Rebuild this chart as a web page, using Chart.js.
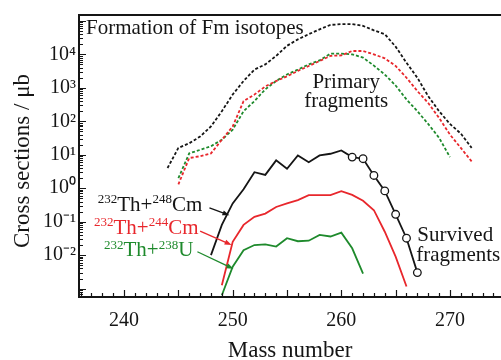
<!DOCTYPE html>
<html>
<head>
<meta charset="utf-8">
<script src="https://cdn.jsdelivr.net/npm/chart.js@4.4.1/dist/chart.umd.min.js"></script>
<style>
  html, body { margin: 0; padding: 0; background: #fff; }
  #wrap { width: 501px; height: 360px; overflow: hidden; }
</style>
</head>
<body>
<div id="wrap"><canvas id="grafico" width="501" height="360"></canvas></div>
<script>
// Números de massa (eixo x)
const massas = [244, 245, 246, 247, 248, 249, 250, 251, 252, 253, 254, 255, 256, 257, 258, 259, 260, 261, 262, 263, 264, 265, 266, 267, 268, 269, 270, 271, 272];

// Fragmentos primários (μb)
const primariosCm248 = [4, 16, 22, 35, 70, 200, 630, 1600, 3500, 5000, 9000, 18000, 28000, 40000, 56000, 76000, 80000, 80000, 71000, 52000, 40000, 17000, 5600, 2000, 560, 200, 83, 43, 16];
const primariosCm244 = [null, 1.3, 8, 9, 11, 28, 70, 400, 630, 1100, 1600, 2200, 3200, 4500, 6300, 9000, 9300, 12600, 12600, 10000, 7600, 4500, 2000, 800, 350, 126, 40, 16, 6.3];
const primariosU238 = [null, 2, 11, 14, 18, 28, 56, 200, 400, 900, 1600, 2500, 3500, 5000, 6600, 10500, 10500, 10000, 8000, 4600, 2500, 1170, 450, 200, 83, 32, 8.5, null, null];

// Fragmentos sobreviventes (μb)
const sobreviventesCm248 = [null, null, null, null, 0.01, 0.08, 0.35, 0.93, 3.0, 2.5, 6.8, 3.8, 9.5, 6.0, 9.5, 10.7, 13.5, 8.5, 7.6, 2.4, 0.83, 0.166, 0.032, 0.003, null, null, null, null, null];
const sobreviventesCm244 = [null, null, null, null, null, 0.00126, 0.025, 0.08, 0.14, 0.174, 0.275, 0.35, 0.44, 0.62, 0.62, 0.62, 0.81, 0.63, 0.42, 0.22, 0.05, 0.009, 0.00115, null, null, null, null, null, null];
const sobreviventesU238 = [null, null, null, null, null, 0.00063, 0.0045, 0.014, 0.02, 0.021, 0.018, 0.032, 0.026, 0.027, 0.04, 0.036, 0.047, 0.016, 0.0028, null, null, null, null, null, null, null, null, null, null];

// Massa a partir da qual a curva preta tem círculos
const primeiraMassaCirculo = 261;

// Ticks
const xTicks = [240, 250, 260, 270];
const yTicks = [0.01, 0.1, 1, 10, 100, 1000, 10000];
const yTickLabels = ['10⁻²', '10⁻¹', '10⁰', '10¹', '10²', '10³', '10⁴'];

const fonte = '"Liberation Serif", "Times New Roman", serif';
const preto = '#151515';
const vermelho = '#e8272c';
const verde = '#1e8a2c';

function pontos(valores) {
  return massas.map((m, i) => ({ x: m, y: valores[i] }));
}

// Texto com sobrescritos: partes = [[texto, sobrescrito?], ...]
function textoRico(ctx, partes, x, y, alinhamento, cor, tam) {
  const tamSup = Math.round(tam * 0.64);
  let largura = 0;
  partes.forEach(([t, sup]) => {
    ctx.font = `${sup ? tamSup : tam}px ${fonte}`;
    largura += ctx.measureText(t).width;
  });
  let cx = alinhamento === 'right' ? x - largura : alinhamento === 'center' ? x - largura / 2 : x;
  ctx.fillStyle = cor;
  ctx.textAlign = 'left';
  ctx.textBaseline = 'alphabetic';
  partes.forEach(([t, sup]) => {
    ctx.font = `${sup ? tamSup : tam}px ${fonte}`;
    ctx.fillText(t, cx, sup ? y - tam * 0.36 : y);
    cx += ctx.measureText(t).width;
  });
}

function seta(ctx, x1, y1, x2, y2, cor) {
  const ang = Math.atan2(y2 - y1, x2 - x1);
  ctx.strokeStyle = cor;
  ctx.fillStyle = cor;
  ctx.lineWidth = 1.3;
  ctx.beginPath();
  ctx.moveTo(x1, y1);
  ctx.lineTo(x2 - 4 * Math.cos(ang), y2 - 4 * Math.sin(ang));
  ctx.stroke();
  ctx.beginPath();
  ctx.moveTo(x2, y2);
  ctx.lineTo(x2 - 7 * Math.cos(ang) + 2.6 * Math.sin(ang), y2 - 7 * Math.sin(ang) - 2.6 * Math.cos(ang));
  ctx.lineTo(x2 - 7 * Math.cos(ang) - 2.6 * Math.sin(ang), y2 - 7 * Math.sin(ang) + 2.6 * Math.cos(ang));
  ctx.closePath();
  ctx.fill();
}

// Moldura, ticks internos, títulos e anotações
const desenhos = {
  id: 'desenhos',
  afterDraw(chart) {
    const ctx = chart.ctx;
    const { left, right, top, bottom } = chart.chartArea;
    const sx = chart.scales.x;
    const sy = chart.scales.y;
    const px = v => sx.getPixelForValue(v);
    const py = v => sy.getPixelForValue(v);
    ctx.save();

    // moldura
    ctx.strokeStyle = preto;
    ctx.lineWidth = 2;
    ctx.beginPath();
    ctx.moveTo(right + 2, top);
    ctx.lineTo(left, top);
    ctx.lineTo(left, bottom);
    ctx.lineTo(right + 2, bottom);
    ctx.stroke();

    // ticks do eixo y (maiores nas potências de 10)
    ctx.lineWidth = 1.2;
    ctx.beginPath();
    for (let e = -4; e <= 5; e++) {
      for (let k = 1; k <= 9; k++) {
        const v = k * Math.pow(10, e);
        if (v < sy.min || v > sy.max) continue;
        const y = Math.round(py(v)) + 0.5;
        ctx.moveTo(left, y);
        ctx.lineTo(left + (k === 1 ? 7 : 4), y);
      }
    }
    // ticks do eixo x
    for (let m = Math.ceil(sx.min); m <= Math.floor(sx.max); m++) {
      const x = Math.round(px(m)) + 0.5;
      ctx.moveTo(x, bottom);
      ctx.lineTo(x, bottom - (m % 5 === 0 ? 7 : 4));
    }
    ctx.stroke();

    // títulos dos eixos
    ctx.fillStyle = preto;
    ctx.font = `23px ${fonte}`;
    ctx.textAlign = 'center';
    ctx.textBaseline = 'alphabetic';
    ctx.fillText('Mass number', (left + right) / 2, 357);
    ctx.save();
    ctx.translate(28.5, 161);
    ctx.rotate(-Math.PI / 2);
    ctx.fillText('Cross sections / μb', 0, 0);
    ctx.restore();

    // anotações
    textoRico(ctx, [['Formation of Fm isotopes', false]], px(236.5), py(40000), 'left', preto, 21);
    textoRico(ctx, [['Primary', false]], px(260.45), py(1000), 'center', preto, 21);
    textoRico(ctx, [['fragments', false]], px(260.45), py(260), 'center', preto, 21);
    textoRico(ctx, [['Survived', false]], px(267.0), py(0.027), 'left', preto, 21);
    textoRico(ctx, [['fragments', false]], px(266.9), py(0.0068), 'left', preto, 21);

    textoRico(ctx, [['232', true], ['Th+', false], ['248', true], ['Cm', false]], px(247.2), py(0.21), 'right', preto, 21);
    textoRico(ctx, [['232', true], ['Th+', false], ['244', true], ['Cm', false]], px(246.85), py(0.043), 'right', vermelho, 21);
    textoRico(ctx, [['232', true], ['Th+', false], ['238', true], ['U', false]], px(246.38), py(0.0093), 'right', verde, 21);

    seta(ctx, px(247.86), py(0.26), px(249.7), py(0.155), preto);
    seta(ctx, px(247.0), py(0.052), px(249.9), py(0.02), vermelho);
    seta(ctx, px(246.75), py(0.0126), px(250.07), py(0.0039), verde);

    ctx.restore();
  }
};

function serie(valores, cor, tracejada) {
  return {
    data: pontos(valores),
    borderColor: cor,
    borderWidth: 1.8,
    borderDash: tracejada ? [3, 2] : [],
    pointRadius: 0,
    tension: 0,
    spanGaps: false,
  };
}

const sobrevPreta = serie(sobreviventesCm248, preto, false);
sobrevPreta.pointRadius = c => (c.raw && c.raw.x >= primeiraMassaCirculo && c.raw.y != null ? 3.8 : 0);
sobrevPreta.pointBackgroundColor = '#fff';
sobrevPreta.pointBorderColor = preto;
sobrevPreta.pointBorderWidth = 1.3;

const grafico = new Chart(document.getElementById('grafico').getContext('2d'), {
  type: 'line',
  data: {
    datasets: [
      serie(primariosCm248, preto, true),
      serie(primariosCm244, vermelho, true),
      serie(primariosU238, verde, true),
      serie(sobreviventesU238, verde, false),
      serie(sobreviventesCm244, vermelho, false),
      sobrevPreta,
    ],
  },
  options: {
    responsive: false,
    animation: false,
    devicePixelRatio: 1,
    layout: { padding: { top: 14, left: 0, right: 0, bottom: 0 } },
    plugins: { legend: { display: false }, tooltip: { enabled: false } },
    scales: {
      x: {
        type: 'linear',
        min: 235.85,
        max: 274.7,
        afterBuildTicks: s => { s.ticks = xTicks.map(v => ({ value: v })); },
        afterFit: s => { s.height = 63; },
        grid: { display: false, drawTicks: false },
        border: { display: false },
        ticks: {
          autoSkip: false,
          maxRotation: 0,
          padding: 12,
          color: preto,
          font: { family: fonte, size: 20 },
          callback: v => String(v),
        },
      },
      y: {
        type: 'logarithmic',
        min: 5.6e-4,
        max: 1.5e5,
        afterBuildTicks: s => { s.ticks = yTicks.map(v => ({ value: v })); },
        afterFit: s => { s.width = 79; },
        grid: { display: false, drawTicks: false },
        border: { display: false },
        ticks: {
          autoSkip: false,
          padding: 3,
          color: preto,
          font: { family: fonte, size: 20 },
          callback: v => yTickLabels[yTicks.indexOf(v)] || '',
        },
      },
    },
  },
  plugins: [desenhos],
});
</script>
</body>
</html>
